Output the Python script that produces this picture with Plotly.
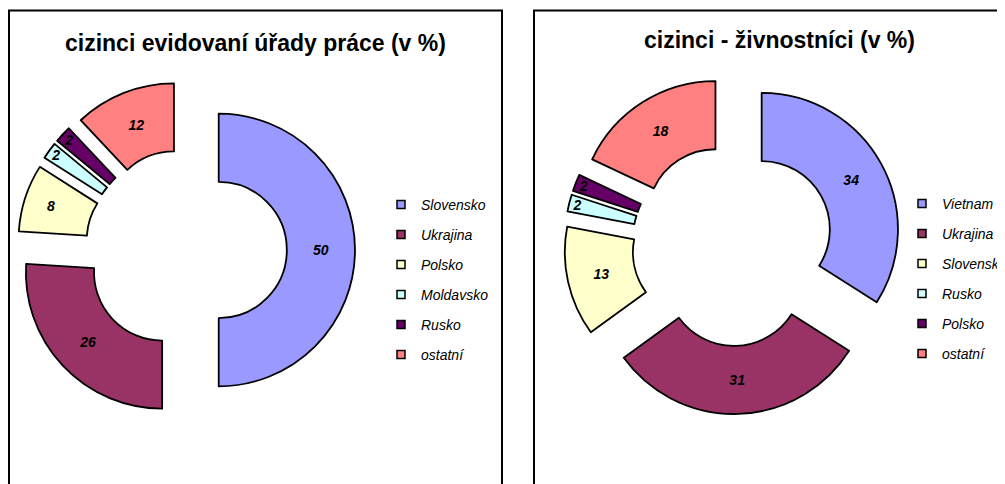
"""
Dva prstencové grafy: cizinci podle úřadů práce a cizinci - živnostníci
"""
import plotly.graph_objects as go

W, H = 1005, 484
OFF = 8  # stránka posouvá graf o okraj body

# levý graf - cizinci evidovaní úřady práce (v %)
uprace_labels = ["Slovensko", "Ukrajina", "Polsko", "Moldavsko", "Rusko", "ostatní"]
uprace_values = [50, 26, 8, 2, 2, 12]
uprace_colors = ["#9999FF", "#993366", "#FFFFCC", "#CCFFFF", "#660066", "#FF8080"]

# pravý graf - cizinci - živnostníci (v %)
zivn_labels = ["Vietnam", "Ukrajina", "Slovensko", "Rusko", "Polsko", "ostatní"]
zivn_values = [34, 31, 13, 2, 2, 18]
zivn_colors = ["#9999FF", "#993366", "#FFFFCC", "#CCFFFF", "#660066", "#FF8080"]

FONT = "Liberation Sans, Arial, sans-serif"


def fx(v):
    return (v - OFF) / W


def fy(v):
    return 1 - (v - OFF) / H


def donut(labels, values, colors, x0, x1, y0, y1):
    return go.Pie(
        labels=labels,
        values=values,
        sort=False,
        direction="clockwise",
        rotation=0,
        hole=0.5,
        pull=0.24,
        marker=dict(colors=colors, line=dict(color="black", width=1.8)),
        textinfo="value",
        textposition="inside",
        insidetextorientation="horizontal",
        textfont=dict(family=FONT, size=14, color="black", weight="bold", style="italic"),
        domain=dict(x=[fx(x0), fx(x1)], y=[fy(y1), fy(y0)]),
        showlegend=False,
        hoverinfo="label+value",
    )


fig = go.Figure()
fig.add_trace(donut(uprace_labels, uprace_values, uprace_colors, 17, 355, 81, 419))
fig.add_trace(donut(zivn_labels, zivn_values, zivn_colors, 564, 902, 76, 414))

# legendy - malé čtverečky s černým okrajem
for legend_id, labels, colors in [("legend", uprace_labels, uprace_colors),
                                  ("legend2", zivn_labels, zivn_colors)]:
    for lab, col in zip(labels, colors):
        fig.add_trace(go.Scatter(
            x=[None], y=[None], mode="markers", name=lab,
            legendgroup=legend_id + lab, legend=legend_id,
            marker=dict(symbol="square", size=8, color=col, line=dict(color="black", width=1.5)),
            hoverinfo="skip",
        ))

legend_style = dict(
    xanchor="left", yanchor="middle", tracegroupgap=8.8,
    font=dict(family=FONT, size=14, style="italic", color="black"),
    bgcolor="rgba(0,0,0,0)", borderwidth=0,
)

fig.update_layout(
    width=W, height=H, autosize=False,
    margin=dict(l=0, r=0, t=0, b=0),
    paper_bgcolor="white", plot_bgcolor="white",
    showlegend=True,
    uniformtext=dict(minsize=14, mode="show"),
    xaxis=dict(visible=False),
    yaxis=dict(visible=False),
    legend=dict(x=fx(381), y=fy(280), **legend_style),
    legend2=dict(x=fx(902), y=fy(279), **legend_style),
    annotations=[
        dict(text="<b>cizinci evidovaní úřady práce (v %)</b>", x=fx(255), y=fy(43),
             xref="paper", yref="paper", xanchor="center", yanchor="middle", showarrow=False,
             font=dict(family=FONT, size=23, color="black")),
        dict(text="<b>cizinci - živnostníci (v %)</b>", x=fx(779), y=fy(40),
             xref="paper", yref="paper", xanchor="center", yanchor="middle", showarrow=False,
             font=dict(family=FONT, size=23, color="black")),
    ],
    shapes=[
        dict(type="rect", xref="paper", yref="paper", x0=fx(9), x1=fx(502), y0=-0.05, y1=fy(10.5),
             line=dict(color="black", width=2)),
        dict(type="rect", xref="paper", yref="paper", x0=fx(534), x1=1.05, y0=-0.05, y1=fy(10.5),
             line=dict(color="black", width=2)),
    ],
)

fig.write_html("out.html")
